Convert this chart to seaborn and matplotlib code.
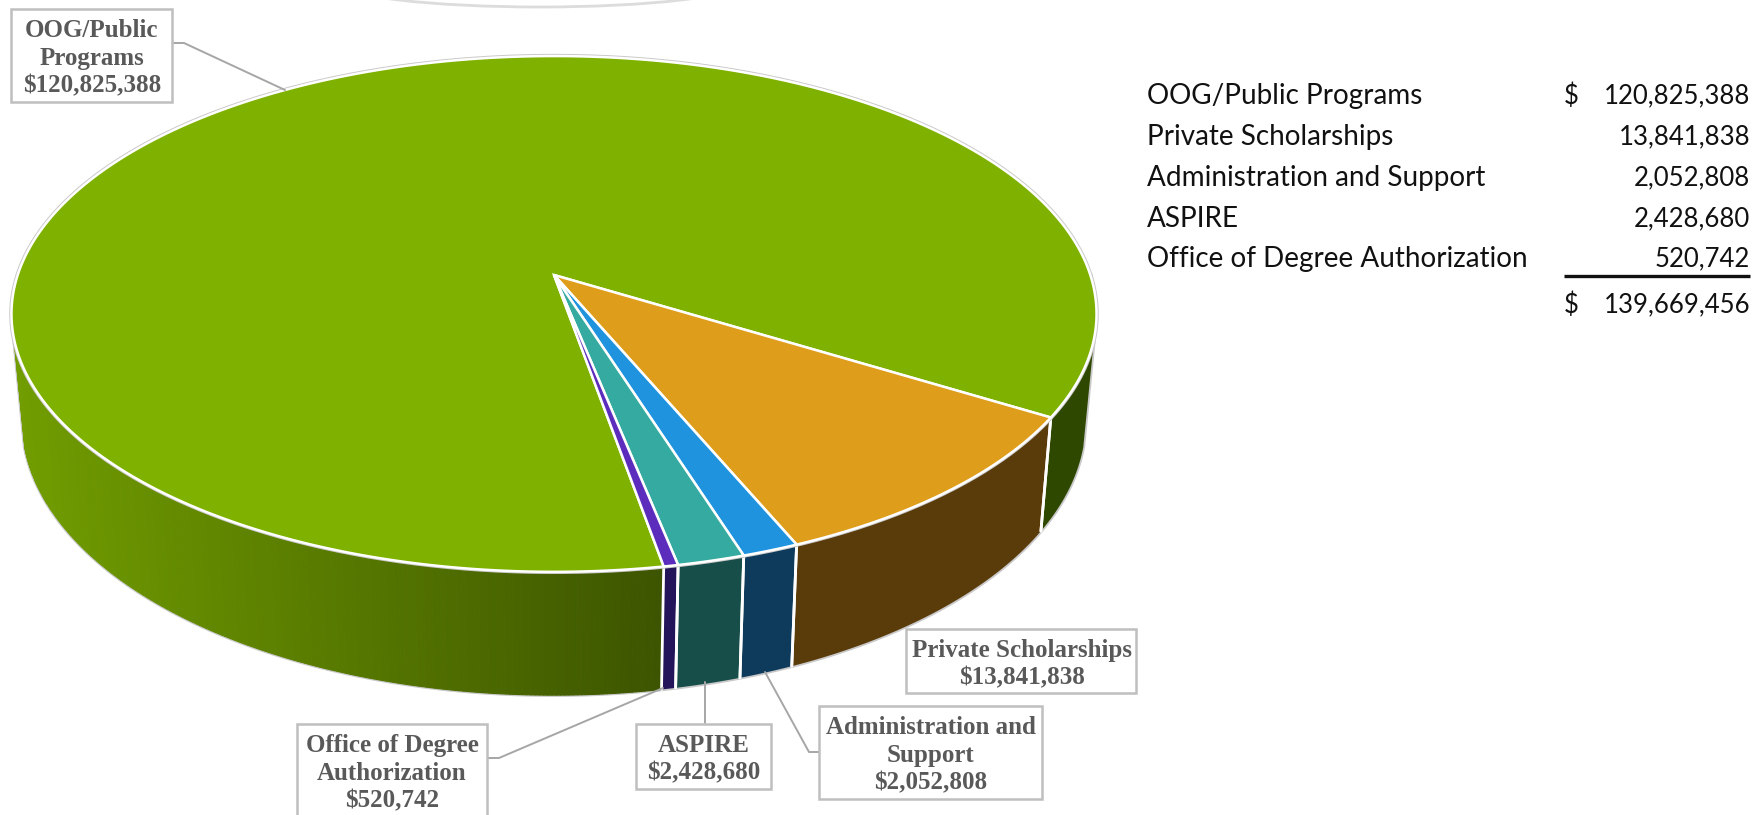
import numpy as np
import matplotlib
matplotlib.use("Agg")
import matplotlib.pyplot as plt
from matplotlib.colors import to_rgb
from matplotlib.patches import Arc
import seaborn as sns

# ---- data ----
names = ["OOG/Public Programs", "Private Scholarships", "Administration and Support",
         "ASPIRE", "Office of Degree Authorization"]
values = [120825388, 13841838, 2052808, 2428680, 520742]
total_value = 139669456
label_text = ["OOG/Public\nPrograms", "Private Scholarships", "Administration and\nSupport",
              "ASPIRE", "Office of Degree\nAuthorization"]
top_colors = ["#7fb200", "#df9d1c", "#2093df", "#34aaa0", "#5c2dbd"]
wall_colors = ["#3d5500", "#5a3b0a", "#0e3b5c", "#174e4a", "#24155a"]

sns.set_theme(style="white")
plt.rcParams["font.family"] = ["Liberation Serif", "DejaVu Serif"]
top_palette = sns.color_palette(top_colors)
wall_palette = sns.color_palette(wall_colors)

fig = plt.figure(figsize=(17.58, 8.15), dpi=100)
ax = fig.add_axes([0, 0, 1, 1])
ax.set_xlim(0, 1758)
ax.set_ylim(815, 0)
ax.axis("off")

# perspective model of the disc
CX, CY, A, B, K = 554.0, 275.0, 536.3, 252.0, 0.151
H, SHRINK = 104.7, 0.98
START = -31.4
WALL_LEFT, WALL_RIGHT = -166.0, -14.0


def top_pt(deg):
    t = np.radians(np.asarray(deg, float))
    d = 1 + K * np.sin(t)
    return CX + A * np.cos(t) / d, CY - B * np.sin(t) / d


def bot_pt(deg):
    t = np.radians(np.asarray(deg, float))
    d = 1 + K * np.sin(t)
    return CX + SHRINK * A * np.cos(t) / d, CY - B * np.sin(t) / d + H / d


# slice boundaries, clockwise from the orange/green edge
sweep = np.array(values, float) / sum(values) * 360
bounds = {}
a = START
order = [1, 2, 3, 4, 0]
for i in order:
    bounds[i] = (a, a - sweep[i])
    a -= sweep[i]

GREY = "#c9c9c9"
# outer rim of the walls
ts = np.linspace(WALL_LEFT, WALL_RIGHT, 400)
bx, by = bot_pt(ts)
tlx, tly = top_pt(WALL_LEFT)
trx, try_ = top_pt(WALL_RIGHT)
ax.plot(np.r_[tlx, bx, trx], np.r_[tly, by, try_], color=GREY, lw=2.6, zorder=1)

# walls
for i in order:
    t0, t1 = bounds[i]
    if i == 0:
        # green wall, left part with a horizontal gradient
        ts = np.linspace(t0, WALL_LEFT, 220)
        light = np.array(to_rgb("#719d00"))
        dark = np.array(wall_palette[0])
        tx0, ty0 = top_pt(ts)
        bx0, by0 = bot_pt(ts)
        xl, xr = tx0.min(), tx0.max()
        for j in range(len(ts) - 1):
            u = (tx0[j] - xl) / (xr - xl)
            col = light + (dark - light) * u
            ax.fill([tx0[j], tx0[j + 1], bx0[j + 1], bx0[j]],
                    [ty0[j], ty0[j + 1], by0[j + 1], by0[j]],
                    color=col, lw=0.8, zorder=2)
        # green wall, right part (dark)
        ts = np.linspace(START, WALL_RIGHT, 60)
        tx1, ty1 = top_pt(ts)
        bx1, by1 = bot_pt(ts)
        ax.fill(np.r_[tx1, bx1[::-1]], np.r_[ty1, by1[::-1]], color="#2f4800", lw=0, zorder=2)
        ax.plot([tx1[0], bx1[0]], [ty1[0], by1[0]], color="white", lw=2, zorder=3)
        continue
    ts = np.linspace(t0, t1, 40)
    tx, ty = top_pt(ts)
    bx, by = bot_pt(ts)
    ax.fill(np.r_[tx, bx[::-1]], np.r_[ty, by[::-1]], color=wall_palette[i], lw=0, zorder=2)
    for e in (0, -1):
        ax.plot([tx[e], bx[e]], [ty[e], by[e]], color="white", lw=2, zorder=3)

# top surface
ts = np.linspace(0, 360, 720)
tx, ty = top_pt(ts)
ax.plot(tx, ty, color=GREY, lw=3.2, zorder=3.5)
for i in [0, 1, 2, 3, 4]:
    t0, t1 = bounds[i]
    ts = np.linspace(t0, t1, 600 if i == 0 else 60)
    tx, ty = top_pt(ts)
    ax.fill(np.r_[CX, tx], np.r_[CY, ty], facecolor=top_palette[i], edgecolor="white",
            lw=1.8, joinstyle="miter", zorder=4 + (i > 0))

# faint arc at the top of the picture
ax.add_patch(Arc((540, -17), 400, 48, theta1=0, theta2=180, color="#dcdcdc", lw=2.0, zorder=1))

# data labels
boxes = [(11, 172, 9, 102), (906, 1136.5, 629, 693), (819.5, 1041.6, 706, 799),
         (636, 771, 724, 789), (297, 487, 724, 830)]
centers = [(92, 58), (1022, 664), (931, 755.5), (704, 759), (392, 773)]
leaders = [([172, 184, 285], [43, 43, 90]),
           None,
           ([819, 809, 765], [752, 752, 672]),
           ([705, 705], [723, 682]),
           ([487, 499, 663], [758, 758, 688])]
for i in range(5):
    if leaders[i] is not None:
        lx, ly = leaders[i]
        ax.plot(lx, ly, color="#a6a6a6", lw=1.4, zorder=6)
    x0, x1, y0, y1 = boxes[i]
    ax.fill([x0, x1, x1, x0], [y0, y0, y1, y1], facecolor="white", edgecolor="#bfbfbf",
            lw=1.8, zorder=7)
    ax.text(*centers[i], f"{label_text[i]}\n${values[i]:,}", ha="center", va="center",
            fontsize=18, fontweight="bold", color="#595959", linespacing=1.25,
            zorder=8, family=["Liberation Serif", "DejaVu Serif"])

# side table
sans = ["Lato", "DejaVu Sans"]
NAME_FS, NUM_FS = 20.1, 18.5
rows_y = [96, 137, 178, 219, 259]
for i in range(5):
    ax.text(1147, rows_y[i], names[i], ha="left", va="center", fontsize=NAME_FS, color="#111111", family=sans)
    ax.text(1750, rows_y[i], f"{values[i]:,}", ha="right", va="center", fontsize=NUM_FS, color="#111111", family=sans)
ax.text(1564, rows_y[0], "$", ha="left", va="center", fontsize=NUM_FS, color="#111111", family=sans)
ax.plot([1564, 1750], [276, 276], color="#111111", lw=2.4, solid_capstyle="butt")
ax.text(1564, 305, "$", ha="left", va="center", fontsize=NUM_FS, color="#111111", family=sans)
ax.text(1750, 305, f"{total_value:,}", ha="right", va="center", fontsize=NUM_FS, color="#111111", family=sans)

fig.savefig("out.png", dpi=100, facecolor="white")
